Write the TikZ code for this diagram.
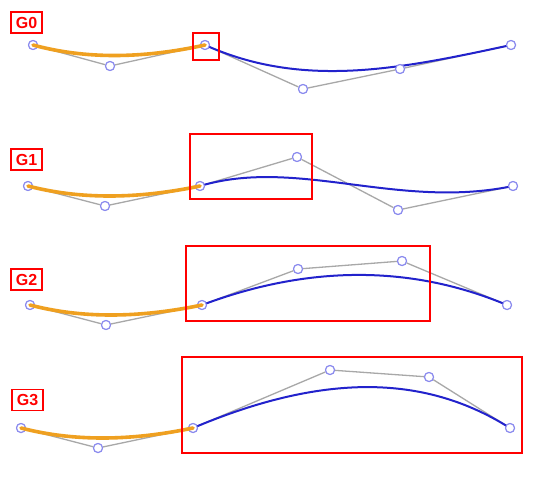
\documentclass[tikz,border=0pt]{standalone}
\usepackage{fontspec}
\setmainfont{Liberation Sans}
\usetikzlibrary{calc}
\definecolor{orng}{HTML}{EFA020}
\definecolor{bcurve}{HTML}{2222CC}
\definecolor{ctrl}{HTML}{8A8AEE}
\definecolor{poly}{HTML}{A8A8A8}
\definecolor{rbox}{HTML}{FF0000}
\tikzset{
 cp/.style={circle, draw=ctrl, fill=white, line width=1.1pt, minimum size=9pt, inner sep=0pt},
 polyline/.style={draw=poly, line width=1.3pt},
 orangecurve/.style={draw=orng, line width=3.6pt, line cap=round},
 bluecurve/.style={draw=bcurve, line width=2pt},
 gbox/.style={draw=rbox, line width=1.5pt},
 glabel/.style={draw=rbox, line width=1.5pt, text=rbox, font=\fontsize{16}{16}\selectfont\bfseries, minimum width=31pt, minimum height=21pt, inner sep=0pt}
}
\newcommand{\grow}[8]{%
 % #1 row id, #2 a0, #3 a1, #4 j, #5 b1, #6 b2, #7 b3, #8 label pos
 \node[cp] (a0#1) at #2 {};
 \node[cp] (a1#1) at #3 {};
 \node[cp] (j#1) at #4 {};
 \node[cp] (b1#1) at #5 {};
 \node[cp] (b2#1) at #6 {};
 \node[cp] (b3#1) at #7 {};
 \draw[polyline] (a0#1) -- (a1#1) -- (j#1) -- (b1#1) -- (b2#1) -- (b3#1);
 \draw[bluecurve] (j#1.center) .. controls (b1#1.center) and (b2#1.center) .. (b3#1.center);
 \node[cp] at #2 {};
 \node[cp] at #3 {};
 \node[cp] at #4 {};
 \node[cp] at #5 {};
 \node[cp] at #6 {};
 \node[cp] at #7 {};
 \draw[orangecurve] (a0#1.center) .. controls ($(a0#1.center)!2/3!(a1#1.center)$) and ($(j#1.center)!2/3!(a1#1.center)$) .. (j#1.center);
 \node[glabel] (lab#1) at #8 {G#1};
}
\begin{document}
\begin{tikzpicture}[x=1pt,y=-1pt]
\useasboundingbox[fill=white] (0,0) rectangle (540,482);
\grow{0}{(33,45)}{(110,66)}{(205,45)}{(303,89)}{(400,69)}{(511,45)}{(26.5,22.5)}
\grow{1}{(28,186)}{(105,206)}{(200,186)}{(297,157)}{(398,210)}{(513,186)}{(26.5,159.5)}
\grow{2}{(30,305)}{(106,325)}{(202,305)}{(298,269)}{(402,261)}{(507,305)}{(26.5,279.5)}
\grow{3}{(21,428)}{(98,448)}{(193,428)}{(330,370)}{(429,377)}{(510,428)}{(27.5,400)}
\draw[gbox] (193,33) rectangle (219,60);
\draw[gbox] (190,134) rectangle (312,199);
\draw[gbox] (186,246) rectangle (430,321);
\draw[gbox] (182,357) rectangle (522,453);
\end{tikzpicture}
\end{document}
